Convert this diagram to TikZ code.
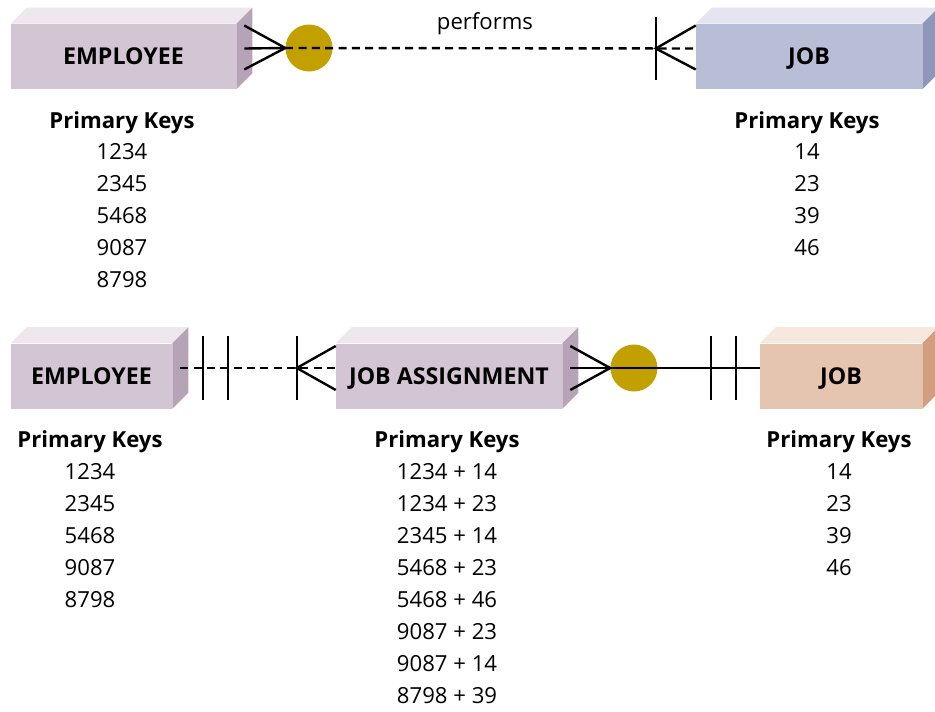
\documentclass[tikz,border=0pt]{standalone}
\usepackage{fontspec}
\setmainfont{Open Sans}
\usepackage{tikz}
\usetikzlibrary{calc}
\definecolor{empFront}{HTML}{D4C5D5}
\definecolor{empTop}{HTML}{EEE7EE}
\definecolor{empSide}{HTML}{B7A3B7}
\definecolor{jobFront}{HTML}{B9BED7}
\definecolor{jobTop}{HTML}{E4E5F0}
\definecolor{jobSide}{HTML}{8E96BA}
\definecolor{tanFront}{HTML}{E5C5B0}
\definecolor{tanTop}{HTML}{F6E8DF}
\definecolor{tanSide}{HTML}{D29E7E}
\definecolor{gold}{HTML}{C2A000}

\begin{document}
\begin{tikzpicture}[x=0.75pt, y=-0.75pt,
    entity/.style={fill=#1, minimum height=65*0.75pt, inner sep=0pt,
      text height=12.4pt, text depth=0pt,
      font=\fontsize{17.4}{19}\selectfont\bfseries},
    keytxt/.style={inner sep=0pt, text height=11.8pt, text depth=0pt,
      font=\fontsize{16.6}{18}\selectfont},
    keyhead/.style={keytxt, font=\fontsize{16.6}{18}\selectfont\bfseries},
    erline/.style={line width=1.8pt},
    erdash/.style={erline, dash pattern=on 6pt off 4pt},
    knot/.style={circle, fill=gold, minimum size=47*0.75pt, inner sep=0pt}]
    \useasboundingbox (0,0) rectangle (935,711);

    % --- entities (front faces) ---
    \node[entity=empFront, minimum width=225*0.75pt] (emp1) at (123.5,56.5) {EMPLOYEE};
    \node[entity=jobFront, minimum width=226*0.75pt] (job1) at (809,56.5) {JOB};
    \node[entity=empFront, minimum width=161*0.75pt] (emp2) at (91.5,376) {EMPLOYEE};
    \node[entity=empFront, minimum width=226*0.75pt] (asg) at (449,376) {JOB ASSIGNMENT};
    \node[entity=tanFront, minimum width=162*0.75pt] (job2) at (841,376) {JOB};

    % --- top and side faces ---
    \foreach \n/\t/\s in {emp1/empTop/empSide, job1/jobTop/jobSide,
        emp2/empTop/empSide, asg/empTop/empSide, job2/tanTop/tanSide} {
      \fill[\t] (\n.north west) -- ++(16,-16) -- ($(\n.north east)+(16,-16)$)
        -- (\n.north east) -- cycle;
      \fill[\s] (\n.north east) -- ++(16,-16) -- ($(\n.south east)+(16,-16)$)
        -- (\n.south east) -- cycle;
    }

    % --- key lists ---
    \node[keyhead] (k1h) at (122,121) {Primary Keys};
    \foreach \k [count=\i] in {1234,2345,5468,9087,8798}
      \node[keytxt] (k1-\i) at (122,120+32*\i) {\k};
    \node[keyhead] (k2h) at (807,121) {Primary Keys};
    \foreach \k [count=\i] in {14,23,39,46}
      \node[keytxt] (k2-\i) at (807,120+32*\i) {\k};
    \node[keyhead] (k3h) at (90,440) {Primary Keys};
    \foreach \k [count=\i] in {1234,2345,5468,9087,8798}
      \node[keytxt] (k3-\i) at (90,440+32*\i) {\k};
    \node[keyhead] (k4h) at (447,440) {Primary Keys};
    \foreach \k [count=\i] in {1234 + 14,1234 + 23,2345 + 14,5468 + 23,
        5468 + 46,9087 + 23,9087 + 14,8798 + 39}
      \node[keytxt] (k4-\i) at (447,440+32*\i) {\k};
    \node[keyhead] (k5h) at (839,440) {Primary Keys};
    \foreach \k [count=\i] in {14,23,39,46}
      \node[keytxt] (k5-\i) at (839,440+32*\i) {\k};

    % --- employee performs job ---
    \coordinate (e1r) at ($(emp1.east)+(8,-8)$);
    \coordinate (j1l) at ($(job1.west)+(0,-8)$);
    \node[knot] (c1) at (309,48) {};
    \node[keytxt, text height=8.8pt] (perf) at (485,24) {performs};
    \draw[erline] ($(e1r)+(0,-23)$) -- (c1.west) -- ($(e1r)+(0,21)$);
    \draw[erline] (e1r) -- (c1.west);
    \draw[erdash] (c1.west) -- (j1l);
    \draw[erline] ($(j1l)+(-40,-32)$) -- ($(j1l)+(-40,31)$);
    \draw[erline] ($(j1l)+(0,-23)$) -- ($(j1l)+(-40,0)$) -- ($(j1l)+(0,21)$);

    % --- employee / job assignment / job ---
    \coordinate (e2r) at ($(emp2.east)+(8,-8)$);
    \coordinate (a2l) at ($(asg.west)+(0,-8)$);
    \coordinate (a2r) at ($(asg.east)+(8,-8)$);
    \coordinate (j2l) at ($(job2.west)+(0,-8)$);
    \node[knot] (c2) at (634,368) {};
    \draw[erdash] (e2r) -- (a2l);
    \foreach \d in {23,48}
      \draw[erline] ($(e2r)+(\d,-32)$) -- ($(e2r)+(\d,32)$);
    \draw[erline] ($(a2l)+(-39,-32)$) -- ($(a2l)+(-39,32)$);
    \draw[erline] ($(a2l)+(0,-22)$) -- ($(a2l)+(-39,0)$) -- ($(a2l)+(0,22)$);
    \draw[erline] ($(a2r)+(0,-22)$) -- (c2.west) -- ($(a2r)+(0,22)$);
    \draw[erline] (a2r) -- (j2l);
    \foreach \d in {-49,-24}
      \draw[erline] ($(j2l)+(\d,-32)$) -- ($(j2l)+(\d,32)$);
  \end{tikzpicture}
\end{document}
